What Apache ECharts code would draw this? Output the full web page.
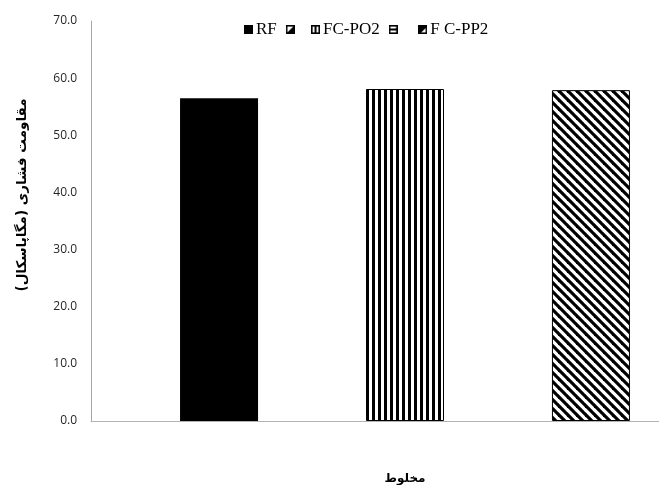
<!DOCTYPE html>
<html>
<head>
<meta charset="utf-8">
<script src="https://cdn.jsdelivr.net/npm/echarts@6/dist/echarts.min.js"></script>
<style>html,body{margin:0;padding:0;background:#fff}#c{width:659px;height:485px}</style>
</head>
<body>
<div id="c"></div>
<script>
// ---- data ----
var categories = [''];
var seriesNames = ['RF', ' ', 'FC-PO2', '  ', 'F C-PP2'];
var rfValues = [56.5];
var blank1Values = [null];
var fcpo2Values = [58.1];
var blank2Values = [null];
var fcpp2Values = [57.9];
var yTicks = [0, 10, 20, 30, 40, 50, 60, 70];
var yTitle = 'مقاومت فشاری (مگاپاسکال)';
var xTitle = 'مخلوط';

// ---- patterns ----
function mk(w, h, draw) {
  var c = document.createElement('canvas');
  c.width = w; c.height = h;
  var g = c.getContext('2d');
  draw(g, w, h);
  return c;
}
var vertTile = mk(6, 4, function (g) {
  g.fillStyle = '#fff'; g.fillRect(0, 0, 6, 4);
  g.fillStyle = '#000'; g.fillRect(0, 0, 3, 4);
});
var diagTile = mk(9, 9, function (g) {
  g.fillStyle = '#fff'; g.fillRect(0, 0, 9, 9);
  g.strokeStyle = '#000'; g.lineWidth = 3.2;
  for (var x0 = -9; x0 <= 9; x0 += 9) {
    g.beginPath(); g.moveTo(x0 - 2, -2); g.lineTo(x0 + 11, 11); g.stroke();
  }
});
function icon(draw) {
  return 'image://' + mk(9, 9, function (g) {
    g.fillStyle = '#fff'; g.fillRect(0, 0, 9, 9);
    draw(g);
    g.strokeStyle = '#000'; g.lineWidth = 1.6; g.strokeRect(0.8, 0.8, 7.4, 7.4);
  }).toDataURL();
}
var icons = [
  icon(function (g) { g.fillStyle = '#000'; g.fillRect(0, 0, 9, 9); }),
  icon(function (g) { g.fillStyle = '#000'; g.beginPath(); g.moveTo(9, 0); g.lineTo(9, 9); g.lineTo(0, 9); g.closePath(); g.fill(); }),
  icon(function (g) { g.fillStyle = '#000'; g.fillRect(3.5, 0, 2, 9); }),
  icon(function (g) { g.fillStyle = '#000'; g.fillRect(0, 3.5, 9, 2); }),
  icon(function (g) { g.fillStyle = '#000'; g.beginPath(); g.moveTo(0, 0); g.lineTo(9, 0); g.lineTo(9, 1.5); g.lineTo(1.5, 9); g.lineTo(0, 9); g.closePath(); g.fill(); })
];
var fills = ['#000', '#fff', { image: vertTile, repeat: 'repeat' }, '#fff', { image: diagTile, repeat: 'repeat' }];
var values = [rfValues, blank1Values, fcpo2Values, blank2Values, fcpp2Values];

var chart = echarts.init(document.getElementById('c'), null, { renderer: 'canvas' });
chart.setOption({
  animation: false,
  backgroundColor: '#fff',
  legend: {
    left: 239, top: 16,
    itemWidth: 9, itemHeight: 9, itemGap: 9,
    textStyle: { fontFamily: 'Liberation Serif', fontSize: 17, color: '#000', padding: [0, 0, 0, -2] },
    data: seriesNames.map(function (n, i) { return { name: n, icon: icons[i] }; })
  },
  grid: { left: 91, top: 21, height: 400, width: 628, containLabel: false, outerBoundsMode: 'none' },
  xAxis: {
    type: 'category', data: categories,
    axisLine: { lineStyle: { color: '#b3b3b3', width: 1 } },
    axisTick: { show: false }, axisLabel: { show: false },
    name: xTitle, nameLocation: 'middle', nameGap: 52,
    nameTextStyle: { fontFamily: 'DejaVu Sans', fontWeight: 'bold', fontSize: 12, color: '#000' }
  },
  yAxis: {
    type: 'value', min: yTicks[0], max: yTicks[yTicks.length - 1], interval: 10,
    axisLine: { show: true, lineStyle: { color: '#a6a6a6', width: 1 } },
    axisTick: { show: false },
    splitLine: { show: false },
    axisLabel: { margin: 14, fontFamily: 'Open Sans', fontSize: 12, color: '#262626', formatter: function (v) { return v.toFixed(1); } },
    name: yTitle, nameLocation: 'middle', nameGap: 62, nameRotate: 90,
    nameTextStyle: { fontFamily: 'DejaVu Sans', fontWeight: 'bold', fontSize: 13.5, color: '#000', padding: [0, 0, 0, 52] }
  },
  series: seriesNames.map(function (n, i) {
    return {
      name: n, type: 'bar', data: values[i],
      barWidth: 78, barGap: '19.2%',
      itemStyle: { color: fills[i], borderColor: '#000', borderWidth: i === 0 ? 0 : 1 }
    };
  })
});
</script>
</body>
</html>
